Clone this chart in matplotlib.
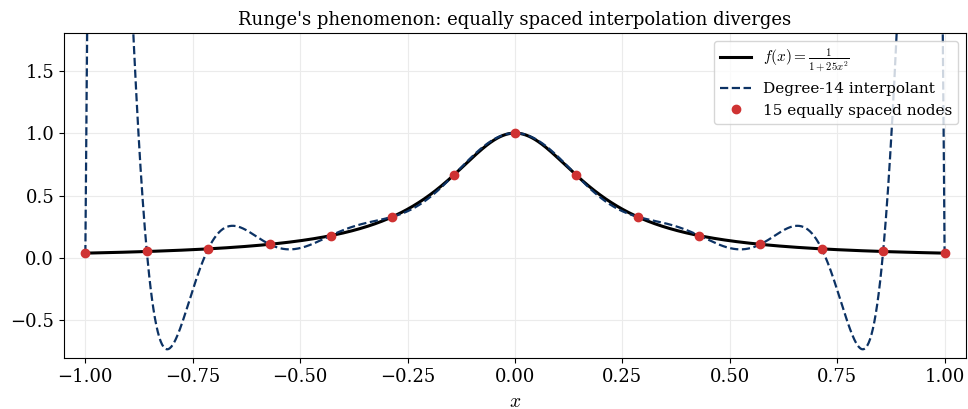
import numpy as np
import matplotlib
matplotlib.use("Agg")
from matplotlib import pyplot as plt

plt.rcParams['font.family'] = ['DejaVu Serif']
plt.rcParams['mathtext.fontset'] = 'cm'

# 15 equally spaced nodes
node_x = [-1.0, -0.857, -0.714, -0.571, -0.429, -0.286, -0.143, 0.0,
          0.143, 0.286, 0.429, 0.571, 0.714, 0.857, 1.0]
node_y = [0.038, 0.052, 0.073, 0.109, 0.179, 0.329, 0.662, 1.0,
          0.662, 0.329, 0.179, 0.109, 0.073, 0.052, 0.038]

x_lim = [-1.05, 1.05]
y_lim = [-0.8, 1.8]
x_ticks = [-1.0, -0.75, -0.5, -0.25, 0.0, 0.25, 0.5, 0.75, 1.0]
y_ticks = [-0.5, 0.0, 0.5, 1.0, 1.5]


def runge(x):
    return 1.0 / (1.0 + 25.0 * x ** 2)


xs = np.linspace(-1, 1, 1200)
# polynomial through the listed nodes
coeffs = np.polyfit(node_x, node_y, len(node_x) - 1)
interp = np.polyval(coeffs, xs)

fig = plt.figure(figsize=(9.68, 4.09), dpi=100)
ax = fig.add_axes([0.066, 0.125, 0.932, 0.794])

ax.plot(xs, runge(xs), color='black', lw=2.2,
        label=r'$f(x) = \frac{1}{1+25x^2}$')
ax.plot(xs, interp, color='#0c3264', lw=1.6, ls='--',
        label='Degree-14 interpolant')
ax.plot(node_x, node_y, 'o', color='#cf3232', ms=6, ls='',
        label='15 equally spaced nodes', zorder=5)

ax.set_xlim(x_lim)
ax.set_ylim(y_lim)
ax.set_xticks(x_ticks)
ax.set_yticks(y_ticks)
ax.tick_params(labelsize=13)
ax.grid(True, color='#ebebeb', lw=0.8)
ax.set_axisbelow(True)
ax.set_xlabel('$x$', fontsize=14, labelpad=5)
ax.set_title("Runge's phenomenon: equally spaced interpolation diverges",
             fontsize=13)
ax.legend(loc='upper right', fontsize=11)

fig.savefig('out.png', dpi=100)
